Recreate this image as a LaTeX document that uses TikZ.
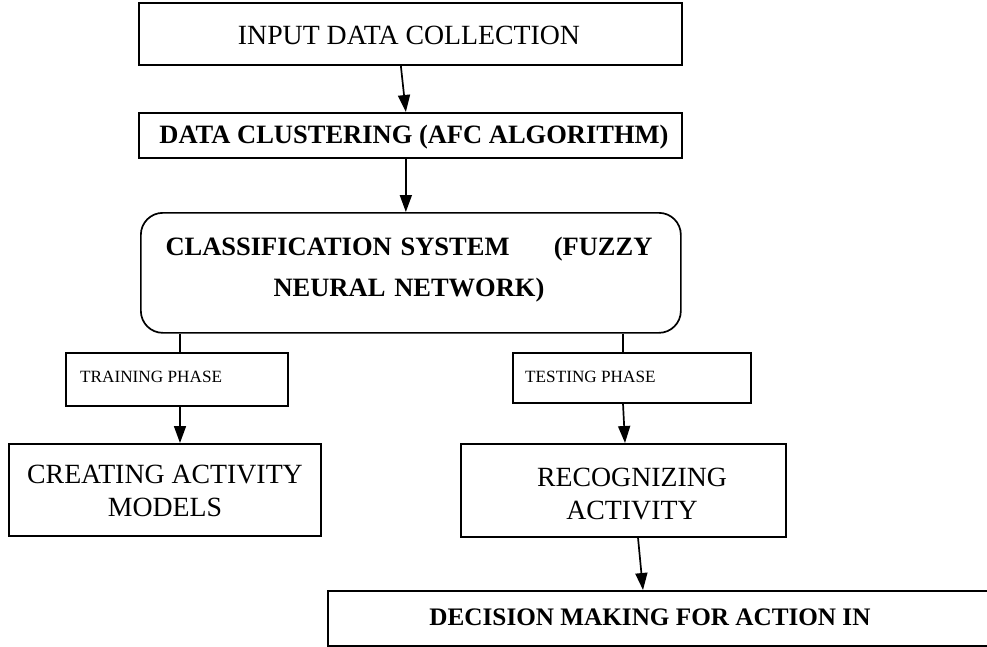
\documentclass[tikz,border=0pt]{standalone}
\usepackage{fontspec}
\setmainfont{Liberation Serif}
\usetikzlibrary{arrows.meta}
\begin{document}
\begin{tikzpicture}[x=1pt,y=-1pt,
  box/.style={draw, line width=1.7pt, inner sep=0pt, anchor=north west},
  rbox/.style={box, rounded corners=22pt},
  big/.style={font=\fontsize{27.8}{33}\selectfont, inner sep=0pt, align=center},
  bigb/.style={font=\fontsize{26.5}{41}\selectfont\bfseries, inner sep=0pt, align=center},
  small/.style={font=\fontsize{17.2}{20}\selectfont, inner sep=0pt, anchor=west},
  arr/.style={line width=1.7pt, -{Triangle[length=17pt,width=12pt]}},
  ln/.style={line width=1.7pt}
]
\clip (0,0) rectangle (987,647);
\fill[white] (0,0) rectangle (987,647);

% boxes
\node[box, minimum width=543pt, minimum height=62pt] (b1) at (138,2) {};
\node[box, minimum width=543pt, minimum height=45pt] (b2) at (138,112) {};
\node[rbox, minimum width=540pt, minimum height=120pt] (b3) at (140,212) {};
\node[box, minimum width=222pt, minimum height=53pt] (tr) at (65,352) {};
\node[box, minimum width=238pt, minimum height=50pt] (te) at (512,352) {};
\node[box, minimum width=312pt, minimum height=92pt] (cr) at (8,443) {};
\node[box, minimum width=325pt, minimum height=93pt] (rc) at (460,443) {};
\node[box, minimum width=680pt, minimum height=55pt] (dm) at (327,590) {};

% texts
\node[big] (t1) at (409,35) {INPUT DATA COLLECTION};
\node[bigb] (t2) at (414,137) {DATA CLUSTERING (AFC ALGORITHM)};
\node[bigb, text width=487pt] (t3) at (409,270) {\makebox[487pt][s]{CLASSIFICATION SYSTEM\hfill(FUZZY}\\NEURAL NETWORK)};
\node[small] (ttr) at (80,377) {TRAINING PHASE};
\node[small] (tte) at (525,377) {TESTING PHASE};
\node[big] (tcr) at (165,491) {CREATING ACTIVITY\\MODELS};
\node[big] (trc) at (632,494) {RECOGNIZING\\ACTIVITY};
\node[font=\fontsize{25.2}{30}\selectfont\bfseries, inner sep=0pt] (tdm) at (650,617) {DECISION MAKING FOR ACTION IN};

% connectors
\coordinate (a1s) at ([xshift=-9.5pt]b1.south);
\coordinate (a1e) at ([xshift=-4.5pt]b2.north);
\draw[arr] (a1s) -- (a1e);
\draw[arr] (b2.south -| a1e) -- (b3.north -| a1e);
\draw[ln] (b3.south -| 180,0) -- (tr.north -| 180,0);
\draw[ln] (b3.south -| 623,0) -- (te.north -| 623,0);
\draw[arr] (tr.south -| 180,0) -- (cr.north -| 180,0);
\coordinate (a5s) at (te.south -| 623,0);
\coordinate (a5e) at (rc.north -| 625,0);
\draw[arr] (a5s) -- (a5e);
\coordinate (a6s) at (rc.south -| 638,0);
\coordinate (a6e) at (dm.north -| 643,0);
\draw[arr] (a6s) -- (a6e);
\end{tikzpicture}
\end{document}
